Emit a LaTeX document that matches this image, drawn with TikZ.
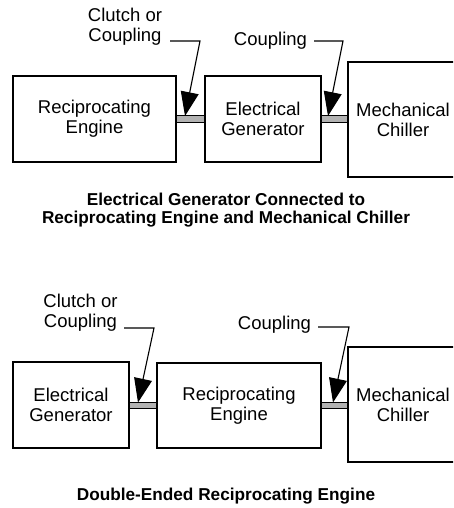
\documentclass[tikz,border=0pt]{standalone}
\usepackage{fontspec}
\setmainfont{Liberation Sans}
\usetikzlibrary{arrows.meta}
\newcommand{\bodyfont}{\fontsize{18.5}{20}\selectfont}
\newcommand{\titlefont}{\fontsize{17.2}{18}\selectfont\bfseries}
\begin{document}
\begin{tikzpicture}[x=1pt,y=-1pt,
  box/.style={draw, line width=1.1pt, inner sep=0pt, align=center, font=\bodyfont},
  shaft/.style={draw, line width=1pt, fill=gray!60, inner sep=0pt, minimum height=6pt},
  lbl/.style={align=center, font=\bodyfont, inner sep=0pt},
  lead/.style={line width=1.1pt, -{Triangle[length=24pt,width=18pt]}},
  ttl/.style={align=center, font=\titlefont, inner sep=0pt}]
\useasboundingbox (0,0) rectangle (453,508);
\clip (0,0) rectangle (453,508);
% ---------- top diagram ----------
\node[box, minimum width=163pt, minimum height=86pt] (re1) at (94.5,119) {Reciprocating\\Engine};
\node[shaft, minimum width=29pt] (sa1) at (190.5,119) {};
\node[box, minimum width=116pt, minimum height=86pt] (eg1) at (263,119) {Electrical\\Generator};
\node[shaft, minimum width=27pt] (sb1) at (334.5,119) {};
\node[box, minimum width=110pt, minimum height=115pt] (mc1) at (403,119.5) {Mechanical\\Chiller};
\node[lbl] (cl1) at (125,27) {Clutch or\\Coupling};
\node[lbl] (cp1) at (270.5,41) {Coupling};
\coordinate (a1) at (170,41);
\coordinate (b1) at (200,41);
\coordinate (t1) at (185,116);
\coordinate (a2) at (314,41);
\coordinate (b2) at (343,41);
\coordinate (t2) at (328,116);
\draw[lead] (a1) -- (b1) -- (t1);
\draw[lead] (a2) -- (b2) -- (t2);
\node[ttl] (tt1) at (226,210) {Electrical Generator Connected to\\Reciprocating Engine and Mechanical Chiller};
% ---------- bottom diagram ----------
\node[box, minimum width=116pt, minimum height=86pt] (eg2) at (71,405) {Electrical\\Generator};
\node[shaft, minimum width=28pt] (sa2) at (143,405.5) {};
\node[box, minimum width=164pt, minimum height=85pt] (re2) at (239,405.5) {Reciprocating\\Engine};
\node[shaft, minimum width=27pt] (sb2) at (334.5,405.5) {};
\node[box, minimum width=110pt, minimum height=115pt] (mc2) at (403,404.5) {Mechanical\\Chiller};
\node[lbl] (cl2) at (80.5,313) {Clutch or\\Coupling};
\node[lbl] (cp2) at (274.5,325) {Coupling};
\coordinate (a3) at (124,328);
\coordinate (b3) at (154,328);
\coordinate (t3) at (138,402.5);
\coordinate (a4) at (318,327);
\coordinate (b4) at (349,327);
\coordinate (t4) at (333,402.5);
\draw[lead] (a3) -- (b3) -- (t3);
\draw[lead] (a4) -- (b4) -- (t4);
\node[ttl] (tt2) at (226,496) {Double-Ended Reciprocating Engine};
\end{tikzpicture}
\end{document}
